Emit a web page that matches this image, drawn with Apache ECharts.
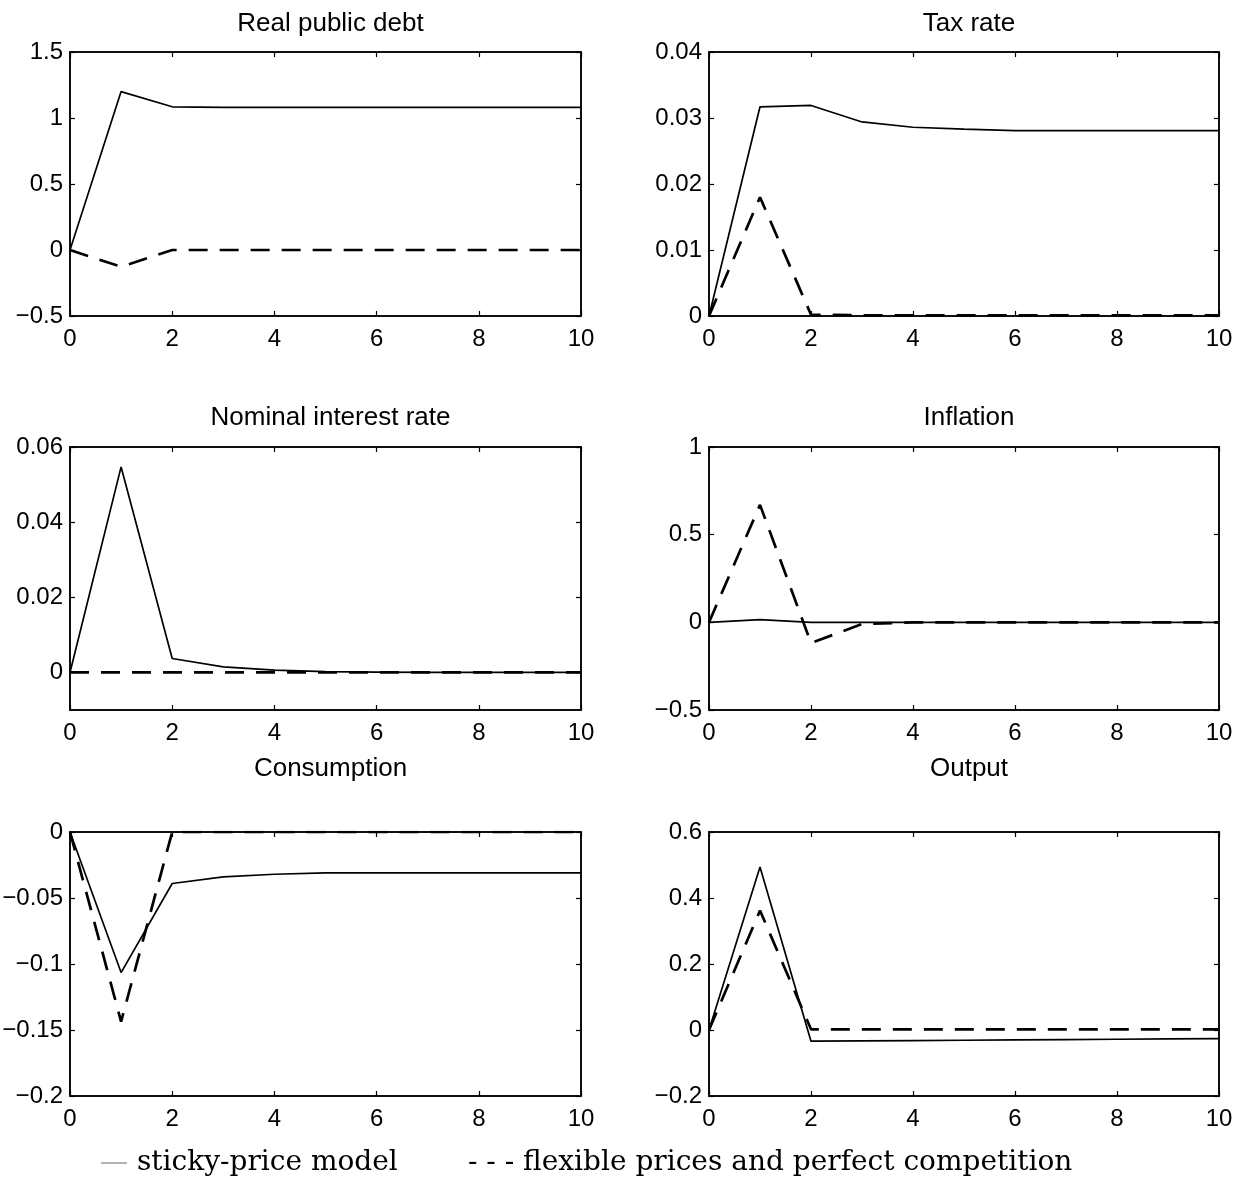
<!DOCTYPE html>
<html>
<head>
<meta charset="utf-8">
<script src="https://cdn.jsdelivr.net/npm/echarts@6/dist/echarts.min.js"></script>
<style>
html,body{margin:0;padding:0;background:#fff;}
#main{width:1240px;height:1186px;}
</style>
</head>
<body>
<div id="main"></div>
<script>
// ---- data ----
const periods = [0, 1, 2, 3, 4, 5, 6, 7, 8, 9, 10];
const titles = ['Real public debt', 'Tax rate', 'Nominal interest rate', 'Inflation', 'Consumption', 'Output'];

const debtSticky   = [0, 1.20, 1.085, 1.08, 1.08, 1.08, 1.08, 1.08, 1.08, 1.08, 1.08];
const debtFlex     = [0, -0.127, 0, 0, 0, 0, 0, 0, 0, 0, 0];
const taxSticky    = [0, 0.0317, 0.0319, 0.0294, 0.0286, 0.0283, 0.0281, 0.0281, 0.0281, 0.0281, 0.0281];
const taxFlex      = [0, 0.018, 0.0002, 0.0001, 0.0001, 0.0001, 0.0001, 0.0001, 0.0001, 0.0001, 0.0001];
const rateSticky   = [0, 0.0547, 0.0037, 0.0015, 0.0006, 0.0002, 0.0001, 0, 0, 0, 0];
const rateFlex     = [0, 0, 0, 0, 0, 0, 0, 0, 0, 0, 0];
const inflSticky   = [0, 0.015, 0.0, 0.0, 0, 0, 0, 0, 0, 0, 0];
const inflFlex     = [0, 0.67, -0.118, -0.01, 0, 0, 0, 0, 0, 0, 0];
const consSticky   = [0, -0.1065, -0.039, -0.034, -0.032, -0.031, -0.031, -0.031, -0.031, -0.031, -0.031];
const consFlex     = [0, -0.1436, 0, 0, 0, 0, 0, 0, 0, 0, 0];
const outSticky    = [0, 0.494, -0.034, -0.033, -0.032, -0.031, -0.030, -0.029, -0.028, -0.027, -0.026];
const outFlex      = [0, 0.362, 0.002, 0.002, 0.002, 0.002, 0.002, 0.002, 0.002, 0.002, 0.002];

const xTicks = [0, 2, 4, 6, 8, 10];
const yTicks = [
  [-0.5, 0, 0.5, 1, 1.5],
  [0, 0.01, 0.02, 0.03, 0.04],
  [0, 0.02, 0.04, 0.06],
  [-0.5, 0, 0.5, 1],
  [-0.2, -0.15, -0.1, -0.05, 0],
  [-0.2, 0, 0.2, 0.4, 0.6]
];
const yRanges = [[-0.5, 1.5], [0, 0.04], [-0.01, 0.06], [-0.5, 1], [-0.2, 0], [-0.2, 0.6]];
const stickyData = [debtSticky, taxSticky, rateSticky, inflSticky, consSticky, outSticky];
const flexData = [debtFlex, taxFlex, rateFlex, inflFlex, consFlex, outFlex];
const legendSticky = 'sticky-price model';
const legendFlex = '- - - flexible prices and perfect competition';

// ---- layout ----
const grids = [
  {left: 70, top: 52, width: 511, height: 264},
  {left: 709, top: 52, width: 510, height: 264},
  {left: 70, top: 447, width: 511, height: 263},
  {left: 709, top: 447, width: 510, height: 263},
  {left: 70, top: 832, width: 511, height: 264},
  {left: 709, top: 832, width: 510, height: 264}
];
const titleTops = [6, 6, 400, 400, 751, 751];

const sans = 'Liberation Sans, Arial, Helvetica, sans-serif';
const fmt = v => {
  if (Math.abs(v) < 1e-12) return '0';
  let s = String(+v.toFixed(4));
  return s.replace('-', '\u2212');
};

const option = {
  backgroundColor: '#fff',
  animation: false,
  title: [],
  grid: [],
  xAxis: [],
  yAxis: [],
  series: [],
  graphic: []
};

grids.forEach((g, i) => {
  option.grid.push(Object.assign({show: true, borderColor: '#000', borderWidth: 1.5, backgroundColor: '#fff', containLabel: false, outerBoundsMode: 'none'}, g));
  option.title.push({
    text: titles[i],
    left: g.left + g.width / 2,
    textAlign: 'center',
    top: titleTops[i],
    textStyle: {fontFamily: sans, fontSize: 26, fontWeight: 'normal', color: '#000'}
  });
  const xBase = {
    gridIndex: i, type: 'value', min: 0, max: 10, interval: 2,
    axisLine: {show: true, onZero: false, lineStyle: {color: '#000', width: 1.5}},
    axisTick: {show: true, inside: true, length: 5, lineStyle: {color: '#000', width: 1.2}},
    splitLine: {show: false}
  };
  option.xAxis.push(Object.assign({}, xBase, {
    position: 'bottom',
    axisLabel: {show: true, margin: 11, fontFamily: sans, fontSize: 24, color: '#000', formatter: v => fmt(v)}
  }));
  option.xAxis.push(Object.assign({}, xBase, {position: 'top', axisLabel: {show: false}}));

  const yBase = {
    gridIndex: i, type: 'value', min: yRanges[i][0], max: yRanges[i][1],
    axisLine: {show: true, onZero: false, lineStyle: {color: '#000', width: 1.5}},
    axisTick: {show: true, inside: true, length: 5, customValues: yTicks[i], lineStyle: {color: '#000', width: 1.2}},
    splitLine: {show: false}
  };
  option.yAxis.push(Object.assign({}, yBase, {
    position: 'left',
    axisLabel: {show: true, margin: 7, customValues: yTicks[i], fontFamily: sans, fontSize: 24, color: '#000', formatter: v => fmt(v)}
  }));
  option.yAxis.push(Object.assign({}, yBase, {position: 'right', axisLabel: {show: false}}));

  option.series.push({
    type: 'line', name: 'sticky', xAxisIndex: 2 * i, yAxisIndex: 2 * i,
    data: periods.map((p, k) => [p, stickyData[i][k]]),
    showSymbol: false, symbol: 'none', silent: true,
    lineStyle: {color: '#000', width: 1.7, type: 'solid'}
  });
  option.series.push({
    type: 'line', name: 'flex', xAxisIndex: 2 * i, yAxisIndex: 2 * i,
    data: periods.map((p, k) => [p, flexData[i][k]]),
    showSymbol: false, symbol: 'none', silent: true,
    lineStyle: {color: '#000', width: 2.7, type: [19, 12]}
  });
});

const serifFont = '28px "DejaVu Serif", "Liberation Serif", serif';
option.graphic.push({
  type: 'line', silent: true,
  shape: {x1: 101, y1: 1163, x2: 127, y2: 1163},
  style: {stroke: '#666', lineWidth: 1}
});
option.graphic.push({
  type: 'text', left: 137, top: 1149,
  style: {text: legendSticky, font: serifFont, fill: '#000'}
});
option.graphic.push({
  type: 'text', left: 468, top: 1149,
  style: {text: legendFlex, font: serifFont, fill: '#000'}
});

const chart = echarts.init(document.getElementById('main'), null, {renderer: 'canvas'});
chart.setOption(option);
</script>
</body>
</html>
